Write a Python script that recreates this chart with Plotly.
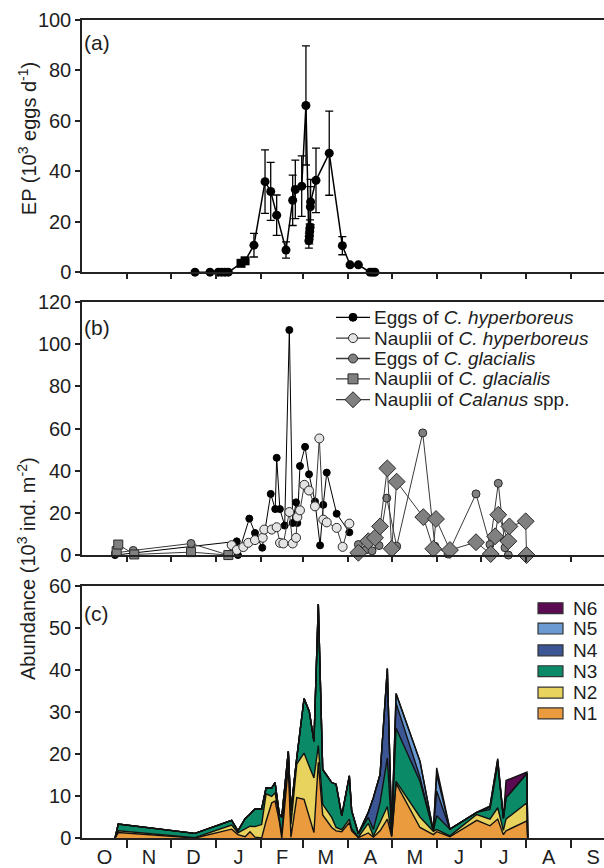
import plotly.graph_objects as go

FONT = "Liberation Sans, Arial, sans-serif"
AX = "#222222"
TXT = "#1e1e1e"

# ---------------- month axis ----------------
month_bounds = [31, 61, 92, 123, 152, 183, 213, 244, 274, 305, 336]
month_centers = [15.5, 46, 76.5, 107.5, 137.5, 167.5, 198, 228.5, 259, 289.5, 320.5, 351]
month_labels = ["O", "N", "D", "J", "F", "M", "A", "M", "J", "J", "A", "S"]

# ---------------- panel (a): egg production ----------------
ep_day = [77.6, 87.9, 93.6, 95.9, 98.2, 100.5, 109.2, 112.0, 118.1, 125.7, 129.6, 133.7,
          140.1, 144.7, 146.5, 150.9, 153.8, 155.8, 156.1, 156.4, 156.6, 156.8, 157.0,
          160.7, 169.8, 178.8, 184.1, 189.8, 197.8, 199.6, 201.2]
ep_val = [0, 0, 0, 0, 0, 0, 3.5, 4.5, 10.7, 35.9, 32.0, 22.6,
          8.8, 28.5, 32.8, 34.1, 66.1, 12.5, 14.2, 16.1, 17.7, 25.9, 27.8,
          36.4, 47.2, 10.5, 2.9, 2.9, 0, 0, 0]
ep_sd = [0, 0, 0, 0, 0, 0, 0, 0, 4.7, 12.6, 11.5, 8.0,
         3.2, 10.0, 11.6, 12.0, 23.6, 3.0, 3.0, 3.0, 3.0, 8.0, 9.0,
         12.8, 16.7, 3.6, 0, 0, 0, 0, 0]
ep_species = ["hyp"] * 6 + ["gla"] * 2 + ["hyp"] * 23

# ---------------- panel (b): eggs & nauplii ----------------
ehyp_day = [22.7, 106.3, 107.1, 114.9, 118.8, 123.8, 129.6, 132.7, 133.7, 135.9, 139.2,
            142.4, 144.7, 147.0, 147.9, 149.7, 153.2, 155.9, 160.0, 163.5, 165.7, 168.1,
            174.9, 183.6]
ehyp_val = [0, 6.5, 0, 17.3, 10.5, 3.5, 29.0, 21.8, 46.1, 21.8, 14.0,
            106.7, 15.2, 25.0, 15.2, 42.2, 51.3, 38.3, 25.4, 4.6, 23.8, 39.1,
            19.6, 10.8]

nhyp_day = [100.5, 102.8, 106.3, 110.8, 114.2, 118.8, 124.1, 125.2, 130.3, 133.7, 136.0,
            138.3, 142.4, 144.7, 147.0, 147.9, 149.7, 152.7, 155.9, 160.0, 163.0, 165.7,
            168.1, 174.9, 179.0, 183.6]
nhyp_val = [0, 4.7, 2.4, 3.8, 5.8, 7.1, 8.2, 12.1, 12.1, 13.2, 5.8,
            5.5, 20.4, 5.5, 8.2, 18.0, 21.2, 33.3, 30.6, 23.1, 55.3, 16.8,
            15.5, 12.9, 3.9, 14.9]

egla_day = [23.0, 35.2, 74.9, 100.5, None, 189.8, 195.1, 199.2, 204.0, 209.3, 216.1,
            234.0, 242.4, 251.4, 270.6, 280.2, 285.9, 290.5, 292.8]
egla_val = [1.0, 2.2, 5.5, 0, None, 5.0, 2.5, 2.0, 4.5, 27.0, 4.2,
            57.9, 4.2, 0.5, 29.0, 5.0, 34.0, 3.5, 0]

ngla_day = [23.8, 24.9, 35.9, 74.9, 100.5]
ngla_val = [1.9, 5.0, 0.3, 1.4, 0]

ncal_day = [189.8, 196.6, 201.2, 204.7, 209.7, 212.7, 216.1, 234.4, 241.3, 243.1, 252.7,
            270.6, 280.7, 283.7, 285.9, 292.8, 293.5, 304.7, 305.3]
ncal_val = [1.1, 6.6, 8.2, 13.6, 41.1, 3.0, 34.8, 18.0, 3.0, 17.1, 2.4,
            6.1, 0.5, 8.9, 19.1, 6.6, 13.6, 16.0, 0]

series_names = ["Eggs of <i>C. hyperboreus</i>", "Nauplii of <i>C. hyperboreus</i>",
                "Eggs of <i>C. glacialis</i>", "Nauplii of <i>C. glacialis</i>",
                "Nauplii of <i>Calanus</i> spp."]

# ---------------- panel (c): nauplii stages (stacked) ----------------
st_day = [22.7, 24.9, 77.6, 102.8, 107.1, 112.0, 115.4, 118.8, 123.4, 126.4, 130.3,
          132.6, 135.5, 137.2, 141.7, 143.5, 147.5, 152.5, 156.1, 159.3, 162.3, 165.3,
          171.5, 174.5, 178.4, 183.6, 185.2, 189.8, 196.6, 200.1, 204.7, 209.7, 212.7,
          215.7, 232.1, 241.3, 243.6, 252.7, 271.1, 280.2, 285.5, 289.4, 291.2, 305.6, 306.1]
N1 = [0, 1.3, 0, 2.1, 0.8, 0.3, 1.5, 0.2, 0, 4.0, 8.4,
      8.8, 4.0, 0, 17.0, 0.2, 9.6, 9.2, 5.0, 1.3, 18.0, 5.5,
      2.5, 1.7, 1.5, 3.7, 1.7, 0.1, 1.2, 0.2, 1.7, 4.5, 0.3,
      13.0, 2.5, 0.8, 1.5, 0.3, 4.2, 2.9, 4.5, 0.8, 1.7, 4.1, 0]
N2 = [0, 0.4, 0.1, 1.0, 0.4, 1.8, 1.3, 2.5, 3.2, 6.5, 1.5,
      2.0, 1.0, 1.0, 2.6, 3.0, 8.0, 11.0, 12.0, 13.0, 4.0, 2.5,
      2.4, 0.8, 0.5, 0.8, 0.5, 0.1, 2.3, 0.3, 2.0, 3.0, 0.2,
      0.5, 2.5, 0.8, 0.5, 0.2, 1.4, 1.6, 2.7, 1.0, 2.8, 4.3, 0]
N3 = [0, 1.6, 1.0, 1.1, 0.5, 2.5, 2.9, 4.2, 3.7, 1.4, 2.0,
      2.4, 0.7, 3.9, 1.0, 3.3, 1.5, 13.0, 13.1, 8.7, 33.7, 8.3,
      8.3, 10.3, 3.3, 10.3, 4.3, 0.8, 1.4, 1.5, 4.7, 11.5, 1.0,
      12.6, 8.5, 0.1, 3.3, 1.6, 0.5, 2.3, 10.3, 2.9, 5.1, 7.0, 0]
N4 = [0] * 28 + [1.2, 7.6, 6.7, 21.3, 0.2, 6.0, 1.0, 0, 5.9, 0, 0, 0.5, 0.8, 0, 0, 0, 0]
N5 = [0] * 33 + [2.3, 3.8, 0, 3.9, 0, 0, 0.3, 0.3, 0, 0, 0, 0]
N6 = [0] * 36 + [1.6, 0, 0, 0, 0.3, 0, 4.1, 0.3, 0]
stage_names = ["N1", "N2", "N3", "N4", "N5", "N6"]
stage_colors = ["#E99B3D", "#E8D35E", "#0B8A68", "#3C5594", "#6B9AD2", "#5A0B52"]

# ---------------- geometry helpers (pixel -> paper) ----------------
L, R, T, B = 82, 604, 20, 844


def px(x):
    return (x - L) / (R - L)


def py(y):
    return (B - y) / (B - T)


# ---------------- figure ----------------
fig = go.Figure()

# panel (a)
fig.add_trace(go.Scatter(
    x=ep_day, y=ep_val, mode="lines+markers", xaxis="x", yaxis="y",
    line=dict(color="black", width=1.5),
    marker=dict(symbol=["square" if s == "gla" else "circle" for s in ep_species],
                size=9, color="black", line=dict(color="black", width=0)),
    error_y=dict(type="data", array=ep_sd, visible=True, color="black",
                 thickness=1.3, width=4),
    cliponaxis=False, showlegend=False))

# panel (b)
grey = "#808080"
b_styles = [
    dict(line="black", sym="circle", size=7, fill="black", edge="black"),
    dict(line="#3a3a3a", sym="circle", size=9, fill="#e4e4e4", edge="#2a2a2a"),
    dict(line="#3a3a3a", sym="circle", size=8, fill=grey, edge="#2a2a2a"),
    dict(line="#3a3a3a", sym="square", size=9, fill=grey, edge="#2a2a2a"),
    dict(line="#3a3a3a", sym="diamond", size=13, fill=grey, edge="#2a2a2a"),
]
b_data = [(ehyp_day, ehyp_val), (nhyp_day, nhyp_val), (egla_day, egla_val),
          (ngla_day, ngla_val), (ncal_day, ncal_val)]
for (xd, yd), st, nm in zip(b_data, b_styles, series_names):
    fig.add_trace(go.Scatter(
        x=xd, y=yd, mode="lines+markers", xaxis="x2", yaxis="y2", name=nm,
        line=dict(color=st["line"], width=1),
        marker=dict(symbol=st["sym"], size=st["size"], color=st["fill"],
                    line=dict(color=st["edge"], width=1)),
        cliponaxis=False, showlegend=False))

# panel (c)
for name, vals, col in zip(stage_names, [N1, N2, N3, N4, N5, N6], stage_colors):
    fig.add_trace(go.Scatter(
        x=st_day, y=vals, mode="lines", stackgroup="c", xaxis="x3", yaxis="y3",
        name=name, line=dict(color="#111111", width=1.4), fillcolor=col,
        showlegend=False))

tickfont = dict(family=FONT, size=20, color=TXT)


def xax(anchor, labels):
    d = dict(range=[0, 358.5], domain=[0, 1], anchor=anchor,
             showline=True, linecolor=AX, linewidth=1.5, mirror=True,
             showgrid=False, zeroline=False, ticks="",
             minor=dict(tickmode="array", tickvals=month_bounds, ticks="outside",
                        ticklen=8 if labels else 5, tickwidth=1.5, tickcolor=AX,
                        showgrid=False))
    if labels:
        d.update(tickmode="array", tickvals=month_centers, ticktext=month_labels,
                 showticklabels=True, tickfont=tickfont)
    else:
        d.update(tickmode="array", tickvals=[], showticklabels=False)
    return d


def yax(domain, rng, dtick, anchor):
    return dict(domain=domain, range=rng, dtick=dtick, anchor=anchor,
                showline=True, linecolor=AX, linewidth=1.5, mirror=False,
                showgrid=False, zeroline=False, ticks="outside", ticklen=5,
                tickwidth=1.5, tickcolor=AX, tickfont=tickfont)


shapes = []
annotations = []

# manual legend for panel (b)
leg_rows_b = [319.5, 340.5, 361, 381.5, 402.5]
leg_marker_px = [8, 9, 9, 10, 16]
for ypix, st, nm, msz in zip(leg_rows_b, b_styles, series_names, leg_marker_px):
    shapes.append(dict(type="line", xref="paper", yref="paper",
                       x0=px(336), x1=px(370), y0=py(ypix), y1=py(ypix),
                       line=dict(color=st["line"], width=1.3)))
    cx, h = 353, msz / 2
    if st["sym"] == "circle":
        shapes.append(dict(type="circle", xref="paper", yref="paper",
                           x0=px(cx - h), x1=px(cx + h), y0=py(ypix + h), y1=py(ypix - h),
                           fillcolor=st["fill"], line=dict(color=st["edge"], width=1)))
    elif st["sym"] == "square":
        shapes.append(dict(type="rect", xref="paper", yref="paper",
                           x0=px(cx - h), x1=px(cx + h), y0=py(ypix + h), y1=py(ypix - h),
                           fillcolor=st["fill"], line=dict(color=st["edge"], width=1)))
    else:
        path = "M {a},{b} L {c},{d} L {a},{e} L {f},{d} Z".format(
            a=px(cx), b=py(ypix - h), c=px(cx + h), d=py(ypix), e=py(ypix + h), f=px(cx - h))
        shapes.append(dict(type="path", xref="paper", yref="paper", path=path,
                           fillcolor=st["fill"], line=dict(color=st["edge"], width=1)))
    annotations.append(dict(text=nm, x=px(372), y=py(ypix), xref="paper", yref="paper",
                            xanchor="left", yanchor="middle", showarrow=False,
                            font=dict(family=FONT, size=19, color=TXT)))

# manual legend for panel (c)
leg_rows_c = [612.5, 633, 655, 676, 697.5, 718.5]
for ypix, nm, col in zip(leg_rows_c, stage_names[::-1], stage_colors[::-1]):
    shapes.append(dict(type="rect", xref="paper", yref="paper",
                       x0=px(538), x1=px(563), y0=py(ypix + 5.5), y1=py(ypix - 5.5),
                       fillcolor=col, line=dict(color="#333333", width=1.2)))
    annotations.append(dict(text=nm, x=px(571), y=py(ypix), xref="paper", yref="paper",
                            xanchor="left", yanchor="middle", showarrow=False,
                            font=dict(family=FONT, size=19, color=TXT)))

# panel labels and axis titles
for lab, ytop in [("(a)", 29), ("(b)", 316), ("(c)", 604)]:
    annotations.append(dict(text=lab, x=px(82), y=py(ytop), xref="paper", yref="paper",
                            xanchor="left", yanchor="top", showarrow=False,
                            font=dict(family=FONT, size=21, color=TXT)))
annotations.append(dict(text="EP (10<sup>3</sup> eggs d<sup>-1</sup>)", textangle=-90,
                        x=px(27), y=py(140), xref="paper", yref="paper",
                        xanchor="center", yanchor="middle", showarrow=False,
                        font=dict(family=FONT, size=20, color=TXT)))
annotations.append(dict(text="Abundance (10<sup>3</sup> ind. m<sup>-2</sup>)", textangle=-90,
                        x=px(27), y=py(573), xref="paper", yref="paper",
                        xanchor="center", yanchor="middle", showarrow=False,
                        font=dict(family=FONT, size=20, color=TXT)))

fig.update_layout(
    width=604, height=868,
    margin=dict(l=L, r=0, t=T, b=868 - B),
    paper_bgcolor="white", plot_bgcolor="white",
    font=dict(family=FONT, size=20, color=TXT),
    xaxis=xax("y", False), yaxis=yax([py(274), py(20)], [0, 100], 20, "x"),
    xaxis2=xax("y2", False), yaxis2=yax([py(559), py(304)], [0, 120], 20, "x2"),
    xaxis3=xax("y3", True), yaxis3=yax([py(844), py(590)], [0, 60], 10, "x3"),
    showlegend=False,
    shapes=shapes,
    annotations=annotations,
)

fig.write_html("out.html")
